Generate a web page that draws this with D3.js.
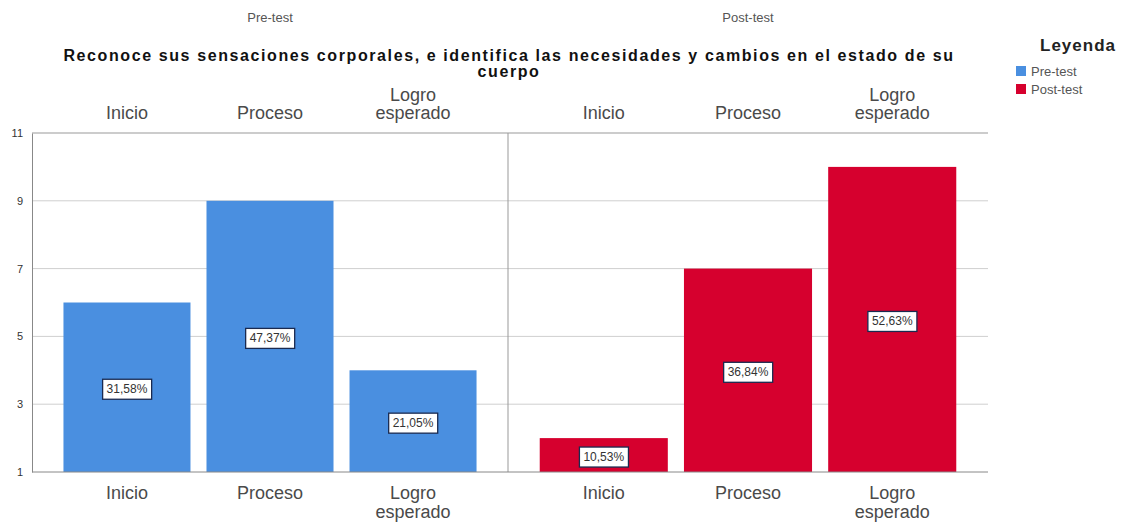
<!DOCTYPE html>
<html><head><meta charset="utf-8">
<script src="https://cdn.jsdelivr.net/npm/d3@7"></script>
<style>body{margin:0;background:#fff}text{font-family:"Liberation Sans",Arial,sans-serif}</style>
</head><body><svg id="c" width="1125" height="523"></svg>
<script>
const categories = ["Inicio", "Proceso", "Logro esperado"];
const groups = ["Pre-test", "Post-test"];
const preValues = [6, 9, 4];
const postValues = [2, 7, 10];
const preLabels = ["31,58%", "47,37%", "21,05%"];
const postLabels = ["10,53%", "36,84%", "52,63%"];
const yTicks = [1, 3, 5, 7, 9, 11];
const titleLines = ["Reconoce sus sensaciones corporales, e identifica las necesidades y cambios en el estado de su", "cuerpo"];
const colors = ["#4a8fe0", "#d6002e"];

const svg = d3.select("#c");
const L = 32, R = 988, T = 133, B = 472, MID = 508;
const y = d3.scaleLinear().domain([1, 11]).range([B, T]);
const panelRanges = [[L, MID], [MID, R]];
const series = [preValues, postValues];
const labels = [preLabels, postLabels];

// gridlines
svg.append("g").selectAll("line").data(yTicks.filter(d => d > 1 && d < 11)).join("line")
  .attr("x1", L).attr("x2", R).attr("y1", d => y(d)).attr("y2", d => y(d))
  .attr("stroke", "#cfcfcf").attr("stroke-width", 1);

// top frame
svg.append("line").attr("x1", L).attr("x2", R).attr("y1", T).attr("y2", T).attr("stroke", "#999");
// divider
svg.append("line").attr("x1", MID).attr("x2", MID).attr("y1", T).attr("y2", B).attr("stroke", "#999");

groups.forEach((g, gi) => {
  const x = d3.scaleBand().domain(categories).range(panelRanges[gi]).paddingInner(0.112).paddingOuter(0.22);
  const cx = (panelRanges[gi][0] + panelRanges[gi][1]) / 2;
  svg.append("text").attr("x", cx).attr("y", 22).attr("text-anchor", "middle")
    .attr("font-size", 13).attr("fill", "#555").text(g);
  const gg = svg.append("g");
  gg.selectAll("rect").data(series[gi]).join("rect")
    .attr("x", (d, i) => x(categories[i])).attr("width", x.bandwidth())
    .attr("y", d => y(d)).attr("height", d => y(1) - y(d)).attr("fill", colors[gi]);
  // value labels
  series[gi].forEach((d, i) => {
    const bx = x(categories[i]) + x.bandwidth() / 2;
    const by = (y(d) + y(1)) / 2 + 2;
    const lg = gg.append("g");
    const t = lg.append("text").attr("x", bx).attr("y", by + 4).attr("text-anchor", "middle")
      .attr("font-size", 12).attr("fill", "#333").text(labels[gi][i]);
    const bb = t.node().getBBox();
    lg.insert("rect", "text").attr("x", bb.x - 4).attr("y", bb.y - 3).attr("width", bb.width + 8).attr("height", bb.height + 6)
      .attr("fill", "#fff").attr("stroke", "#1a2a50").attr("stroke-width", 1.3);
  });
  // category labels top & bottom
  categories.forEach((c, i) => {
    const bx = x(c) + x.bandwidth() / 2;
    const words = c.split(" ");
    const top = svg.append("text").attr("text-anchor", "middle").attr("font-size", 18).attr("fill", "#4a4a4a");
    words.forEach((w, k) => top.append("tspan").attr("x", bx).attr("y", 119 - (words.length - 1 - k) * 18).text(w));
    const bot = svg.append("text").attr("text-anchor", "middle").attr("font-size", 18).attr("fill", "#4a4a4a");
    words.forEach((w, k) => bot.append("tspan").attr("x", bx).attr("y", 499 + k * 19).text(w));
  });
});

// y axis
const yAxis = svg.append("g").attr("transform", `translate(${L},0)`)
  .call(d3.axisLeft(y).tickValues(yTicks).tickSize(0).tickPadding(9).tickFormat(d3.format("d")));
yAxis.select(".domain").attr("stroke", "#888");
yAxis.selectAll("text").attr("font-size", 11).attr("fill", "#333").attr("font-family", "Liberation Sans, Arial, sans-serif");
// x baseline
svg.append("line").attr("x1", L).attr("x2", R).attr("y1", B).attr("y2", B).attr("stroke", "#888");

// title
titleLines.forEach((l, k) => svg.append("text").attr("x", 509).attr("y", 61 + k * 16).attr("text-anchor", "middle")
  .attr("font-size", 16).attr("letter-spacing", 1.6).attr("font-weight", "bold").attr("fill", "#111").text(l));

// legend
svg.append("text").attr("x", 1078).attr("y", 51).attr("text-anchor", "middle").attr("font-size", 17)
  .attr("letter-spacing", 1).attr("font-weight", "bold").attr("fill", "#222").text("Leyenda");
groups.forEach((g, i) => {
  svg.append("rect").attr("x", 1016).attr("y", 66 + i * 18).attr("width", 10).attr("height", 10).attr("fill", colors[i]);
  svg.append("text").attr("x", 1031).attr("y", 76 + i * 18).attr("font-size", 13).attr("fill", "#555").text(g);
});
</script></body></html>
